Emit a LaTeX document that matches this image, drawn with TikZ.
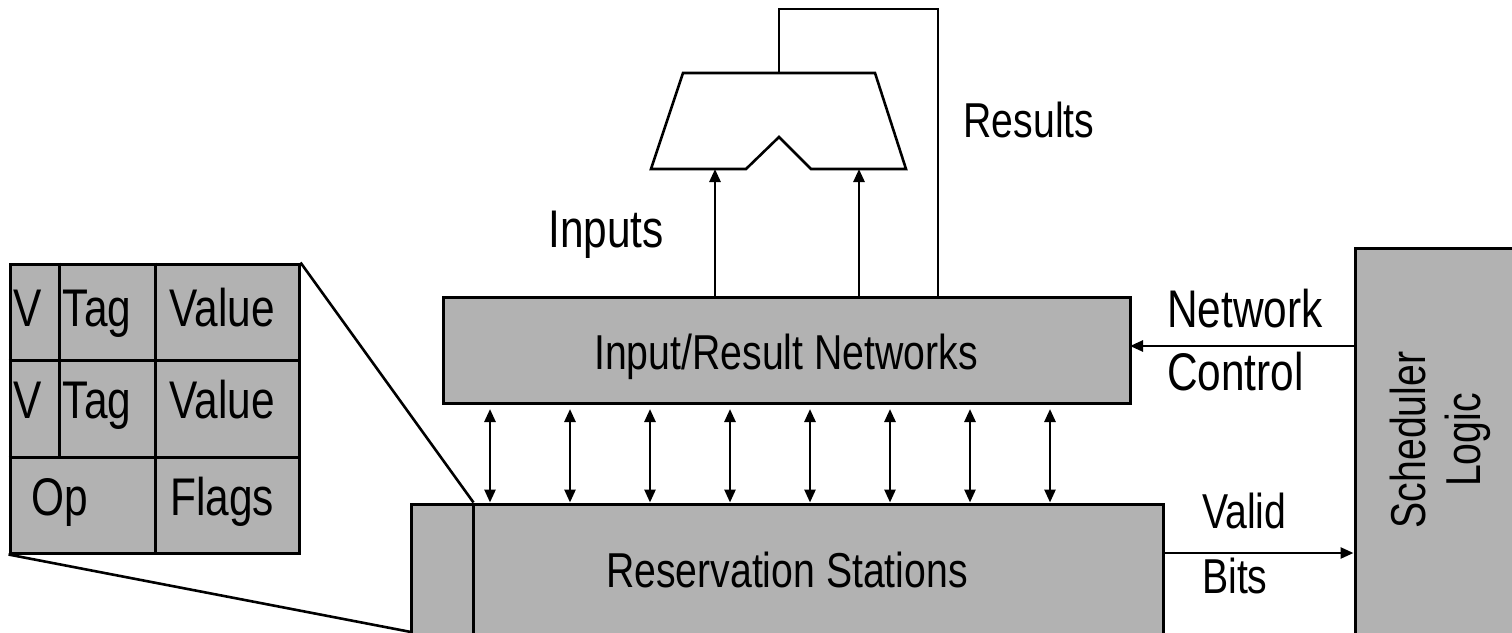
\documentclass[tikz,border=0pt]{standalone}
\usepackage{fontspec}
\setmainfont[FakeStretch=0.8]{Liberation Sans}
\usetikzlibrary{arrows.meta}
\definecolor{boxgray}{RGB}{178,178,178}
\begin{document}
\begin{tikzpicture}[x=1pt,y=-1pt,
  box/.style={draw=black,fill=boxgray,line width=3pt,inner sep=0pt},
  wire/.style={line width=2.6pt},
  arr/.style={wire,-{Triangle[length=13pt,width=11pt]}},
  darr/.style={wire,{Triangle[length=13pt,width=11pt]}-{Triangle[length=13pt,width=11pt]}},
  lbl/.style={anchor=base,inner sep=0pt,font=\fontsize{49pt}{58pt}\selectfont},
  big/.style={lbl,font=\fontsize{53pt}{62pt}\selectfont}]
\useasboundingbox (0,0) rectangle (1512,632);
\clip (0,0) rectangle (1512,632);

% blocks
\node[box,minimum width=289pt,minimum height=289pt] (tbl) at (154.5,408.5) {};
\node[box,minimum width=687pt,minimum height=106pt] (irn) at (786.5,350) {};
\node[box,minimum width=752pt,minimum height=160pt] (rs) at (787,584) {};
\node[box,minimum width=205pt,minimum height=452pt] (sched) at (1457.5,474) {};

% reservation station entry divider
\coordinate (rsdiv) at ([xshift=64pt]rs.north west);
\draw[line width=3pt] (rsdiv) -- (rsdiv |- rs.south);

% fields of one entry
\coordinate (r1) at (0,360);
\coordinate (r2) at (0,457);
\coordinate (c1) at (155,0);
\coordinate (c0) at (59,0);
\draw[line width=3pt] (tbl.west |- r1) -- (tbl.east |- r1);
\draw[line width=3pt] (tbl.west |- r2) -- (tbl.east |- r2);
\draw[line width=3pt] (c1 |- tbl.north) -- (c1 |- tbl.south);
\draw[line width=3pt] (c0 |- tbl.north) -- (c0 |- r2);

% magnification lines
\coordinate (rsbl) at (411,632);
\draw[wire] (tbl.north east) -- (rsdiv);
\draw[wire] (tbl.south west) -- (rsbl);

% functional unit
\coordinate (in1) at (715,169);
\coordinate (in2) at (859,169);
\coordinate (out) at (779,73);
\draw[wire,line join=miter] (683,73) -- (875,73) -- (906,169) -- (811,169)
  -- (779,137) -- (746,169) -- (651,169) -- cycle;
\draw[arr] (in1 |- irn.north) -- (in1);
\draw[arr] (in2 |- irn.north) -- (in2);
\coordinate (rtop) at (938,9);
\draw[wire] (out) |- (rtop) -- (rtop |- irn.north);

% network <-> stations
\foreach \x [count=\i] in {490,570,650,730,810,890,970,1050}{
  \coordinate (d\i) at (\x,409);
  \draw[darr] (d\i) -- (d\i |- rs.north);
}

% scheduler links
\coordinate (nc) at (1130,346);
\draw[arr] (nc -| sched.west) -- (nc);
\coordinate (vb) at (1163,553);
\draw[arr] (vb) -- (vb -| sched.west);

% labels
\node[big] (v1) at (28,326) {V};
\node[big] (tag1) at (97,326) {Tag};
\node[big] (val1) at (222,326) {Value};
\node[big] (v2) at (28,418) {V};
\node[big] (tag2) at (97,418) {Tag};
\node[big] (val2) at (222,418) {Value};
\node[big] (op) at (60,515) {Op};
\node[big] (flags) at (222,515) {Flags};

\node[big] (inputs) at (606,247) {Inputs};
\node[lbl] (results) at (1029,137) {Results};
\node[big,anchor=base west] (network) at (1167,327) {Network};
\node[big,anchor=base west] (control) at (1167,390) {Control};
\node[lbl,anchor=base west] (valid) at (1202,528) {Valid};
\node[lbl,anchor=base west] (bits) at (1202,593) {Bits};
\node[lbl] (irntext) at (786,369) {Input/Result Networks};
\node[lbl] (rstext) at (787,587) {Reservation Stations};
\node[lbl,rotate=90] (schedtext) at (1425,440) {Scheduler};
\node[lbl,rotate=90] (logictext) at (1480,440) {Logic};
\end{tikzpicture}
\end{document}
